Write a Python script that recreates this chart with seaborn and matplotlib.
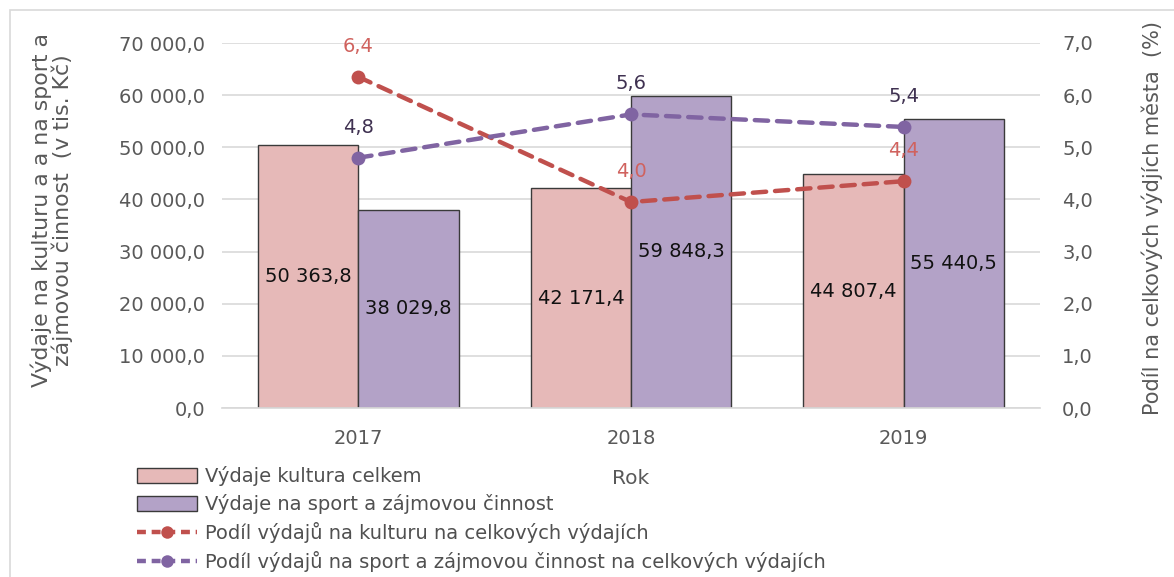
import numpy as np
import pandas as pd
import matplotlib
matplotlib.use("Agg")
import matplotlib.pyplot as plt
from matplotlib.lines import Line2D
from matplotlib.patches import Patch, Rectangle
import seaborn as sns

# ---- data ----
years = ["2017", "2018", "2019"]
kultura = [50363.8, 42171.4, 44807.4]
sport = [38029.8, 59848.3, 55440.5]
podil_kultura = [6.35, 3.95, 4.35]
podil_sport = [4.80, 5.63, 5.39]
podil_kultura_labels = ["6,4", "4,0", "4,4"]
podil_sport_labels = ["4,8", "5,6", "5,4"]
bar_names = ["Výdaje kultura celkem", "Výdaje na sport a zájmovou činnost"]
line_names = ["Podíl výdajů na kulturu na celkových výdajích",
              "Podíl výdajů na sport a zájmovou činnost na celkových výdajích"]
left_ticks = [0, 10000, 20000, 30000, 40000, 50000, 60000, 70000]
right_ticks = [0, 1, 2, 3, 4, 5, 6, 7]

c_bar1, c_bar2 = "#E6B9B8", "#B3A2C7"
c_line1, c_line2 = "#C0504D", "#8064A2"
c_lab1, c_lab2 = "#D0625E", "#3F3151"
gray = "#595959"

sns.set_theme(style="white")
plt.rcParams["font.family"] = ["DejaVu Sans"]

fig = plt.figure(figsize=(11.74, 5.77), dpi=100)
W, H = 1174, 577
ax = fig.add_axes([222 / W, 1 - 408 / H, (1040 - 222) / W, (408 - 43) / H])

df = pd.DataFrame({
    "year": years * 2,
    "value": kultura + sport,
    "series": [bar_names[0]] * 3 + [bar_names[1]] * 3,
})
sns.barplot(data=df, x="year", y="value", hue="series", ax=ax,
            palette=[c_bar1, c_bar2], saturation=1, width=0.735, gap=0,
            edgecolor="#3a3a3a", linewidth=1.0, legend=False, zorder=2)

for cont in ax.containers:
    labels = [f"{v:,.1f}".replace(",", " ").replace(".", ",") for v in cont.datavalues]
    ax.bar_label(cont, labels=labels, label_type="center", fontsize=14, color="#111111")

ax.set_ylim(0, 70000)
ax.set_yticks(left_ticks)
ax.set_yticklabels([f"{v:,.1f}".replace(",", " ").replace(".", ",") for v in left_ticks])
ax.yaxis.grid(True, color="#D9D9D9", linewidth=1.2, zorder=0)
ax.set_axisbelow(True)
for s in ["top", "left", "right"]:
    ax.spines[s].set_visible(False)
ax.spines["bottom"].set_color("#D9D9D9")
ax.tick_params(axis="both", length=0, labelsize=14, labelcolor=gray)
ax.tick_params(axis="y", pad=12)
ax.tick_params(axis="x", pad=15)
ax.set_xlabel("")
ax.set_ylabel("")

ax2 = ax.twinx()
pos = np.arange(len(years))
ldf = pd.DataFrame({
    "pos": np.concatenate([pos, pos]),
    "value": podil_kultura + podil_sport,
    "series": [line_names[0]] * 3 + [line_names[1]] * 3,
})
sns.lineplot(data=ldf, x="pos", y="value", hue="series", style="series",
             palette=[c_line1, c_line2], dashes=[(3, 2), (3, 2)],
             markers=["o", "o"], markersize=10, markeredgewidth=0,
             linewidth=3.2, ax=ax2, legend=False, zorder=3)
for ln in ax2.get_lines():
    ln.set_dash_capstyle("round")
    ln.set_solid_capstyle("round")

for x, v, t in zip(pos, podil_kultura, podil_kultura_labels):
    ax2.annotate(t, (x, v), xytext=(0, 22), textcoords="offset points",
                 ha="center", va="center", fontsize=14, color=c_lab1)
for x, v, t in zip(pos, podil_sport, podil_sport_labels):
    ax2.annotate(t, (x, v), xytext=(0, 22), textcoords="offset points",
                 ha="center", va="center", fontsize=14, color=c_lab2)

ax2.set_ylim(0, 7)
ax2.set_yticks(right_ticks)
ax2.set_yticklabels([f"{v:.1f}".replace(".", ",") for v in right_ticks])
ax2.tick_params(axis="y", length=0, labelsize=14, labelcolor=gray, pad=16)
for s in ["top", "left", "right", "bottom"]:
    ax2.spines[s].set_visible(False)
ax2.set_ylabel("")
ax2.set_xlabel("")
ax.set_xlim(-0.5, 2.5)
ax2.set_xlim(-0.5, 2.5)

fig.text(52 / W, 1 - 210 / H,
         "Výdaje na kulturu a a na sport a\nzájmovou činnost  (v tis. Kč)",
         rotation=90, ha="center", va="center", multialignment="center",
         fontsize=15.8, color=gray, linespacing=1.0)
fig.text(1152 / W, 1 - 218 / H, "Podíl na celkových výdjích města  (%)",
         rotation=90, ha="center", va="center", fontsize=15, color=gray)
fig.text(631 / W, 1 - 478 / H, "Rok", ha="center", va="center", fontsize=14.5, color=gray)

handles = [
    Patch(facecolor=c_bar1, edgecolor="#3a3a3a", linewidth=1.0),
    Patch(facecolor=c_bar2, edgecolor="#3a3a3a", linewidth=1.0),
    Line2D([0], [0], color=c_line1, lw=3.2, dashes=(2, 1.3), marker="o",
           markersize=9, markeredgewidth=0),
    Line2D([0], [0], color=c_line2, lw=3.2, dashes=(2, 1.3), marker="o",
           markersize=9, markeredgewidth=0),
]
fig.legend(handles, bar_names + line_names, loc="upper left",
           bbox_to_anchor=(137 / W, 1 - 466 / H), frameon=False,
           fontsize=14, labelcolor="#505050", handlelength=3.1, handleheight=0.8,
           handletextpad=0.4, labelspacing=0.42, borderaxespad=0, borderpad=0)

fig.patches.append(Rectangle((10 / W, -0.1), 1.2, 1 - 10 / H + 0.1,
                             transform=fig.transFigure, fill=False,
                             edgecolor="#D9D9D9", linewidth=1.2))

fig.savefig("out.png", dpi=100)
